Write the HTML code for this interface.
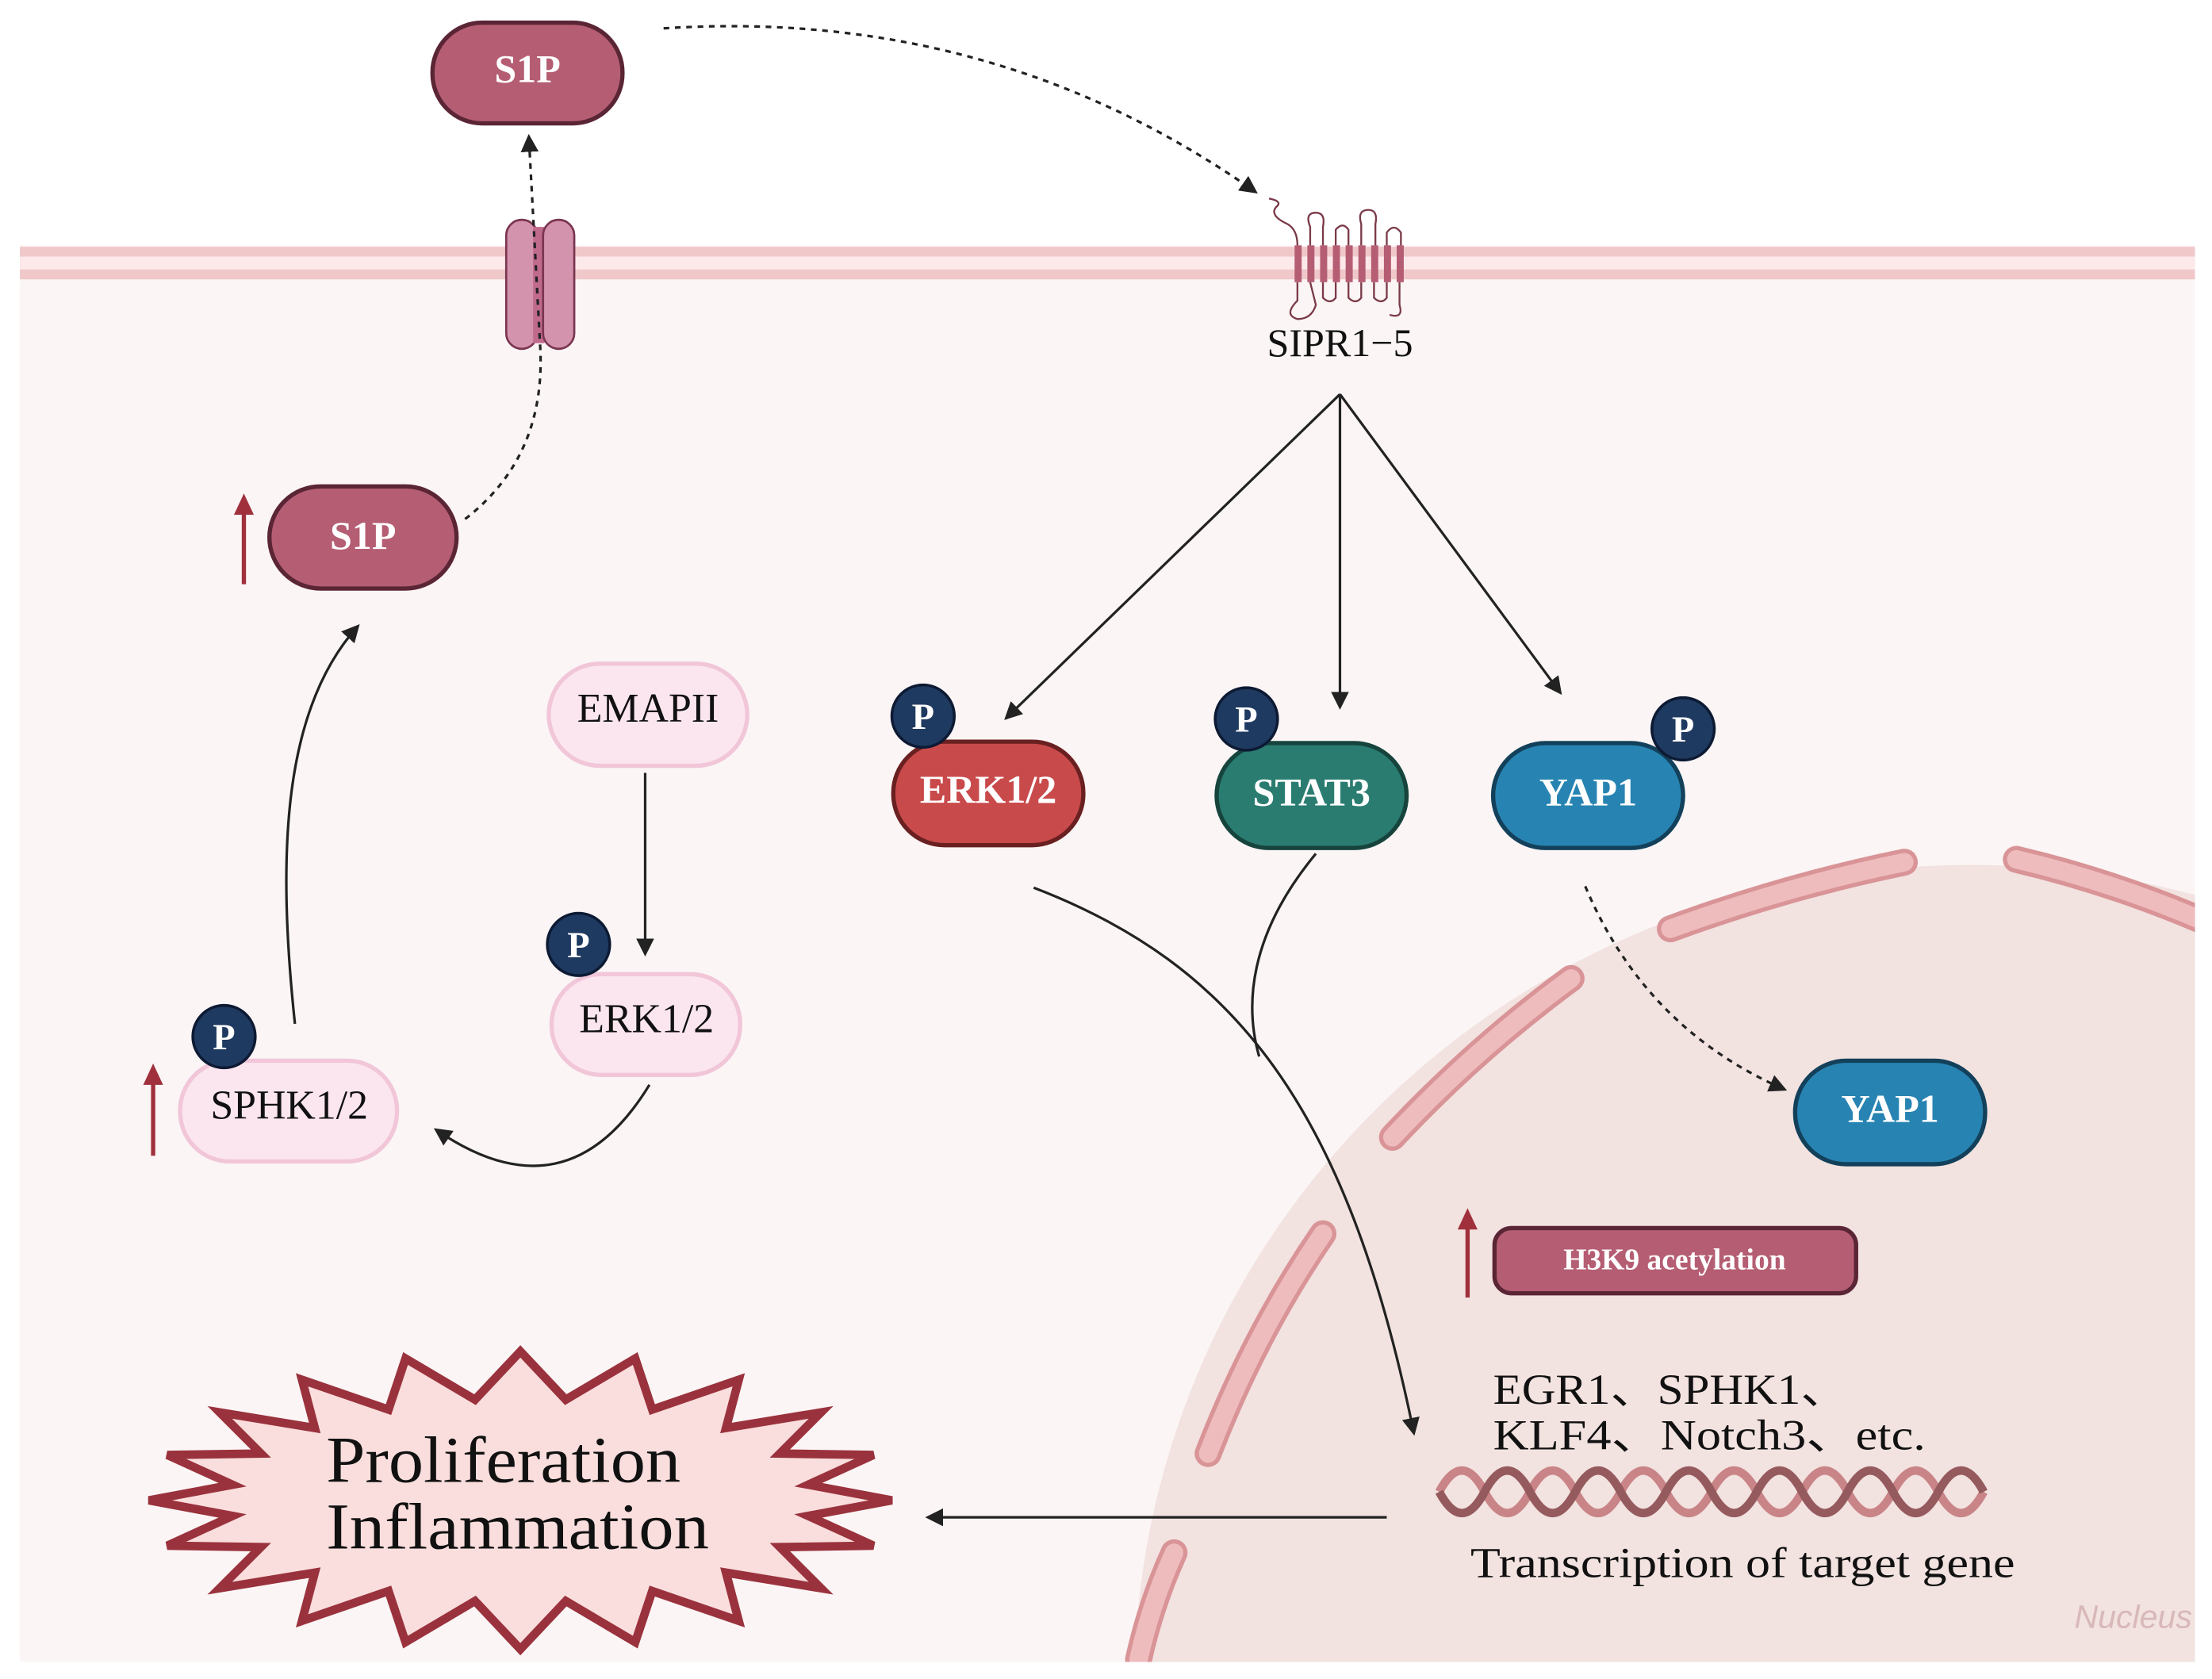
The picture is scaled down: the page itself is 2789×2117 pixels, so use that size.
<!DOCTYPE html>
<html><head><meta charset="utf-8"><style>html,body{margin:0;padding:0;background:#fff;width:2789px;height:2117px;overflow:hidden}svg{display:block}</style></head>
<body>
<svg width="2789" height="2117" viewBox="0 0 1560 1184" preserveAspectRatio="none" xmlns="http://www.w3.org/2000/svg" font-family="'Liberation Serif', serif">
<defs>
<marker id="ah" viewBox="0 0 10 10" refX="8" refY="5" markerWidth="7" markerHeight="7" orient="auto-start-reverse"><path d="M0,0 L10,5 L0,10 z" fill="#222"/></marker>
<clipPath id="cell"><rect x="14" y="173" width="1534" height="999"/></clipPath>
</defs>
<rect x="0" y="0" width="1560" height="1184" fill="#fff"/>
<rect x="14" y="173" width="1534" height="999" fill="#fbf5f5"/>
<g clip-path="url(#cell)">
<ellipse cx="1390" cy="1190" rx="590" ry="580" fill="#f2e2e0"/>
<g stroke-linecap="round" fill="none">
<g stroke="#d99497" stroke-width="19">
<path d="M1178,655 Q1260,625 1343,608"/><path d="M1422,606 Q1490,622 1555,650"/>
<path d="M982,802 Q1040,740 1108,690"/><path d="M852,1025 Q885,940 933,870"/><path d="M803,1170 Q812,1130 828,1095"/>
</g>
<g stroke="#efbcbe" stroke-width="13">
<path d="M1178,655 Q1260,625 1343,608"/><path d="M1422,606 Q1490,622 1555,650"/>
<path d="M982,802 Q1040,740 1108,690"/><path d="M852,1025 Q885,940 933,870"/><path d="M803,1170 Q812,1130 828,1095"/>
</g></g>
</g>
<rect x="14" y="174" width="1534" height="7" fill="#f0c8ca"/>
<rect x="14" y="181" width="1534" height="9" fill="#fde8ea"/>
<rect x="14" y="190" width="1534" height="7" fill="#f0c8ca"/>
<rect x="357" y="155" width="22" height="91" rx="11" fill="#d493ad" stroke="#7a3550" stroke-width="1.5"/>
<rect x="376" y="160" width="8" height="82" fill="#c06a8c"/>
<rect x="383" y="155" width="22" height="91" rx="11" fill="#d493ad" stroke="#7a3550" stroke-width="1.5"/>
<g fill="#b55e73">
<rect x="913" y="173" width="5" height="26"/><rect x="922" y="173" width="5" height="26"/><rect x="931" y="173" width="5" height="26"/><rect x="940" y="173" width="5" height="26"/><rect x="949" y="173" width="5" height="26"/><rect x="958" y="173" width="5" height="26"/><rect x="967" y="173" width="5" height="26"/><rect x="976" y="173" width="5" height="26"/><rect x="985" y="173" width="5" height="26"/>
</g>
<g fill="none" stroke="#7a3a48" stroke-width="1.3">
<path d="M915,173 Q915,162 908,158 Q895,152 900,146 Q905,142 895,140"/>
<path d="M924,173 L924,160 Q920,150 928,150 Q935,150 933,160 L933,173"/>
<path d="M942,173 L942,162 Q947,156 951,162 L951,173"/>
<path d="M960,173 L960,158 Q957,148 965,148 Q972,148 970,158 L970,173"/>
<path d="M978,173 L978,164 Q983,157 988,164 L988,173"/>
<path d="M915,199 L915,212 Q905,222 915,225 Q925,225 928,215 L924,199"/>
<path d="M933,199 L933,210 Q938,215 942,210 L942,199"/>
<path d="M951,199 L951,210 Q956,215 960,210 L960,199"/>
<path d="M969,199 L969,210 Q974,215 978,210 L978,199"/>
<path d="M987,199 L987,215 Q990,225 980,222"/>
</g>
<text x="945" y="251" font-size="28" text-anchor="middle" fill="#111">SIPR1−5</text>
<g fill="none" stroke="#222" stroke-width="1.8">
<path d="M468,20 Q700,5 885,135" stroke-dasharray="4,4" marker-end="url(#ah)"/>
<path d="M328,366 Q385,322 381,245 L373,97" stroke-dasharray="4,4" marker-end="url(#ah)"/>
<path d="M208,722 C195,600 200,500 252,442" marker-end="url(#ah)"/>
<path d="M455,545 L455,672" marker-end="url(#ah)"/>
<path d="M458,765 Q400,860 308,797" marker-end="url(#ah)"/>
<path d="M945,278 L710,506" marker-end="url(#ah)"/>
<path d="M945,278 L945,498" marker-end="url(#ah)"/>
<path d="M945,278 L1100,488" marker-end="url(#ah)"/>
<path d="M729,626 C870,680 950,780 997,1010" marker-end="url(#ah)"/>
<path d="M928,602 C880,660 878,710 888,745"/>
<path d="M1118,625 Q1160,725 1258,768" stroke-dasharray="4,4" marker-end="url(#ah)"/>
<path d="M978,1070 L655,1070" marker-end="url(#ah)"/>
</g>
<g fill="#a0303c" stroke="#a0303c">
<line x1="172" y1="412" x2="172" y2="360" stroke-width="3"/><path d="M165,363 L172,348 L179,363 z" stroke="none"/>
<line x1="108" y1="815" x2="108" y2="762" stroke-width="3"/><path d="M101,765 L108,750 L115,765 z" stroke="none"/>
<line x1="1035" y1="915" x2="1035" y2="864" stroke-width="3"/><path d="M1028,867 L1035,852 L1042,867 z" stroke="none"/>
</g>
<g stroke-width="3">
<rect x="305" y="16" width="134" height="71" rx="35" fill="#b55e73" stroke="#5a2535"/>
<rect x="190" y="343" width="132" height="72" rx="36" fill="#b55e73" stroke="#5a2535"/>
<rect x="387" y="468" width="140" height="72" rx="36" fill="#fbe6ef" stroke="#f2c6d9"/>
<rect x="389" y="687" width="133" height="71" rx="35" fill="#fbe6ef" stroke="#f2c6d9"/>
<rect x="127" y="748" width="153" height="71" rx="35" fill="#fbe6ef" stroke="#f2c6d9"/>
<rect x="630" y="523" width="134" height="73" rx="36" fill="#c94a4b" stroke="#6a2020"/>
<rect x="858" y="524" width="134" height="74" rx="37" fill="#2a7c71" stroke="#16443d"/>
<rect x="1053" y="524" width="134" height="74" rx="37" fill="#2784b2" stroke="#13405a"/>
<rect x="1266" y="748" width="134" height="73" rx="36" fill="#2784b2" stroke="#13405a"/>
<rect x="1054" y="866" width="255" height="46" rx="12" fill="#b55e73" stroke="#5a2535"/>
</g>
<g font-weight="bold" fill="#fff" text-anchor="middle" font-size="28">
<text x="372" y="58">S1P</text>
<text x="256" y="387">S1P</text>
<text x="697" y="566">ERK1/2</text>
<text x="925" y="568">STAT3</text>
<text x="1120" y="568">YAP1</text>
<text x="1333" y="791">YAP1</text>
<text x="1181" y="895" font-size="21">H3K9 acetylation</text>
</g>
<g fill="#111" text-anchor="middle" font-size="29">
<text x="457" y="509">EMAPII</text>
<text x="456" y="728">ERK1/2</text>
<text x="204" y="789">SPHK1/2</text>
</g>
<g fill="#1f3a60" stroke="#0d1a33" stroke-width="2">
<circle cx="408" cy="666" r="22"/><circle cx="158" cy="731" r="22"/><circle cx="651" cy="505" r="22"/><circle cx="879" cy="507" r="22"/><circle cx="1187" cy="514" r="22"/>
</g>
<g fill="#fff" font-weight="bold" text-anchor="middle" font-size="26">
<text x="408" y="675">P</text><text x="158" y="740">P</text><text x="651" y="514">P</text><text x="879" y="516">P</text><text x="1187" y="523">P</text>
</g>
<path d="M1015,1052 q16 -30 32 0 t32 0 t32 0 t32 0 t32 0 t32 0 t32 0 t32 0 t32 0 t32 0 t32 0 t32 0" fill="none" stroke="#c98487" stroke-width="6"/>
<path d="M1015,1052 q16 30 32 0 t32 0 t32 0 t32 0 t32 0 t32 0 t32 0 t32 0 t32 0 t32 0 t32 0 t32 0" fill="none" stroke="#955a5e" stroke-width="6"/>
<g fill="#111" font-size="30">
<text x="1053" y="990" textLength="250" lengthAdjust="spacingAndGlyphs">EGR1、SPHK1、</text>
<text x="1053" y="1022" textLength="305" lengthAdjust="spacingAndGlyphs">KLF4、Notch3、etc.</text>
<text x="1037" y="1112" textLength="384" lengthAdjust="spacingAndGlyphs">Transcription of target gene</text>
</g>
<text x="1546" y="1148" font-family="'Liberation Sans', sans-serif" font-style="italic" font-size="23" fill="#d8b8b8" text-anchor="end">Nucleus</text>
<polygon points="629,1058 570,1069 616,1090 550,1091 579,1120 512,1109 521,1143 460,1122 448,1158 399,1129 367,1163 335,1129 286,1158 274,1122 213,1143 222,1109 155,1120 184,1091 118,1090 164,1069 105,1058 164,1047 118,1026 184,1025 155,996 222,1007 213,973 274,994 286,958 335,987 367,953 399,987 448,958 460,994 521,973 512,1007 579,996 550,1025 616,1026 570,1047" fill="#f9dedd" stroke="#9a323d" stroke-width="6" stroke-linejoin="miter"/>
<g fill="#111" font-size="46">
<text x="230" y="1045" textLength="250" lengthAdjust="spacingAndGlyphs">Proliferation</text>
<text x="230" y="1092" textLength="270" lengthAdjust="spacingAndGlyphs">Inflammation</text>
</g>
</svg>
</body></html>
